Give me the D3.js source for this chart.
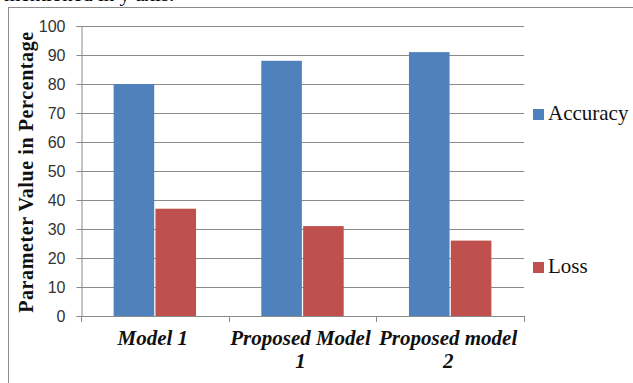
<!DOCTYPE html>
<html>
<head>
<meta charset="utf-8">
<script src="https://cdn.jsdelivr.net/npm/d3@7"></script>
<style>
  html, body { margin: 0; padding: 0; background: #fff; }
  svg { display: block; }
</style>
</head>
<body>
<svg id="chart" width="633" height="383"></svg>
<script>
// Model comparison: accuracy vs loss (percent)
const categories = [["Model 1"], ["Proposed Model", "1"], ["Proposed model", "2"]];
const seriesNames = ["Accuracy", "Loss"];
const accuracy = [80, 88, 91];
const loss = [37, 31, 26];
const yTicks = [0, 10, 20, 30, 40, 50, 60, 70, 80, 90, 100];
const colors = ["#4F81BD", "#C0504D"];

const svg = d3.select("#chart");
const W = 633, H = 383;
const serif = "'Liberation Serif', 'Times New Roman', serif";

// trailing line of the surrounding caption text
svg.append("text")
  .attr("x", 4).attr("y", 1)
  .attr("font-family", serif)
  .attr("font-size", 21)
  .attr("fill", "#000")
  .text("mentioned in y axis.");

// chart frame
svg.append("rect")
  .attr("x", 8.5).attr("y", 7.5)
  .attr("width", W + 10).attr("height", H + 10)
  .attr("fill", "none").attr("stroke", "#8c8c8c").attr("stroke-width", 1);

const plot = { left: 81, right: 524, top: 26, bottom: 316 };

const x = d3.scaleBand()
  .domain(d3.range(categories.length))
  .range([plot.left, plot.right])
  .paddingInner(0).paddingOuter(0);

const inner = d3.scaleBand()
  .domain(seriesNames)
  .range([0, x.bandwidth()])
  .paddingInner(0.03)
  .paddingOuter(0.78);

const y = d3.scaleLinear().domain([0, 100]).range([plot.bottom, plot.top]);

// horizontal gridlines
svg.append("g")
  .selectAll("line")
  .data(yTicks.filter(d => d > 0))
  .join("line")
  .attr("x1", plot.left).attr("x2", plot.right)
  .attr("y1", d => Math.round(y(d)) + 0.5).attr("y2", d => Math.round(y(d)) + 0.5)
  .attr("stroke", "#8a8a8a").attr("stroke-width", 1);

// bars
const series = [accuracy, loss];
series.forEach((vals, si) => {
  svg.append("g")
    .selectAll("rect")
    .data(vals)
    .join("rect")
    .attr("x", (d, i) => x(i) + inner(seriesNames[si]))
    .attr("width", inner.bandwidth())
    .attr("y", d => y(d))
    .attr("height", d => y(0) - y(d))
    .attr("fill", colors[si]);
});

// y axis
const yAxis = svg.append("g")
  .attr("transform", `translate(${plot.left + 0.5},0)`)
  .call(d3.axisLeft(y).tickValues(yTicks).tickSize(5).tickPadding(11));
yAxis.select(".domain").attr("stroke", "#8a8a8a");
yAxis.selectAll(".tick line").attr("stroke", "#8a8a8a");
yAxis.selectAll(".tick text")
  .attr("font-family", "'Liberation Sans', Arial, sans-serif")
  .attr("font-size", 16)
  .attr("fill", "#333");

// x axis baseline and category separators
const xg = svg.append("g");
xg.append("line")
  .attr("x1", plot.left).attr("x2", plot.right)
  .attr("y1", plot.bottom + 0.5).attr("y2", plot.bottom + 0.5)
  .attr("stroke", "#8a8a8a");
xg.selectAll("line.sep")
  .data(d3.range(categories.length + 1))
  .join("line")
  .attr("class", "sep")
  .attr("x1", i => Math.round(plot.left + i * x.bandwidth()) + 0.5)
  .attr("x2", i => Math.round(plot.left + i * x.bandwidth()) + 0.5)
  .attr("y1", plot.bottom).attr("y2", plot.bottom + 6)
  .attr("stroke", "#8a8a8a");

// category labels
categories.forEach((lines, i) => {
  const t = svg.append("text")
    .attr("text-anchor", "middle")
    .attr("font-family", serif)
    .attr("font-weight", "bold")
    .attr("font-style", "italic")
    .attr("font-size", 21)
    .attr("fill", "#111");
  lines.forEach((ln, k) => {
    t.append("tspan")
      .attr("x", x(i) + x.bandwidth() / 2 - 2)
      .attr("y", 345 + k * 23)
      .text(ln);
  });
});

// y axis title
svg.append("text")
  .attr("transform", `translate(33,${172}) rotate(-90)`)
  .attr("text-anchor", "middle")
  .attr("font-family", serif)
  .attr("font-weight", "bold")
  .attr("font-size", 20)
  .attr("letter-spacing", 0.6)
  .attr("fill", "#111")
  .text("Parameter Value in Percentage");

// legend
const legendBase = [120, 273];
seriesNames.forEach((name, i) => {
  svg.append("rect")
    .attr("x", 533).attr("y", legendBase[i] - 11)
    .attr("width", 11).attr("height", 11)
    .attr("fill", colors[i]);
  svg.append("text")
    .attr("x", 548).attr("y", legendBase[i])
    .attr("font-family", serif)
    .attr("font-size", 21)
    .attr("fill", "#111")
    .text(name);
});
</script>
</body>
</html>
